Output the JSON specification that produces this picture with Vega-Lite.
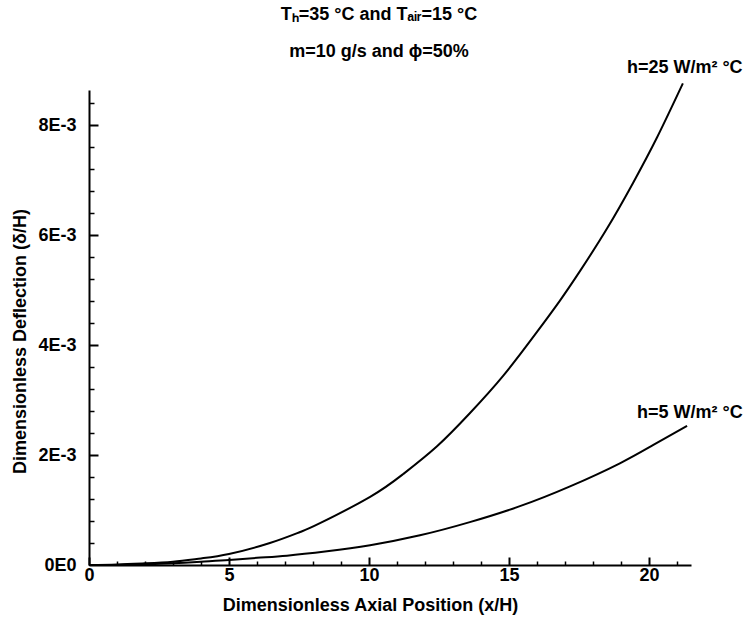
{
  "$schema": "https://vega.github.io/schema/vega-lite/v6.json",
  "width": 602,
  "height": 475,
  "autosize": {"type": "none"},
  "padding": {"left": 89, "top": 90, "right": 59, "bottom": 53},
  "background": "white",
  "config": {"view": {"stroke": null}, "font": "Liberation Sans"},
  "title": {
    "text": ["Tₕ=35 °C and Tₐᵢᵣ=15 °C", "m=10 g/s and ϕ=50%"],
    "anchor": "middle",
    "dx": -11,
    "offset": -2,
    "lineHeight": 37,
    "fontSize": 18,
    "fontWeight": "bold",
    "font": "Liberation Sans",
    "color": "black"
  },
  "layer": [
    {
      "data": {
        "values": [
          {"series": "h=25", "x": 0, "y": 0},
          {"series": "h=25", "x": 1, "y": 0.00001},
          {"series": "h=25", "x": 2, "y": 0.00003},
          {"series": "h=25", "x": 3, "y": 0.00006},
          {"series": "h=25", "x": 4, "y": 0.00012},
          {"series": "h=25", "x": 5, "y": 0.0002},
          {"series": "h=25", "x": 6.46, "y": 0.0004},
          {"series": "h=25", "x": 7.54, "y": 0.0006},
          {"series": "h=25", "x": 8.25, "y": 0.00076},
          {"series": "h=25", "x": 10.04, "y": 0.00124},
          {"series": "h=25", "x": 11.21, "y": 0.00165},
          {"series": "h=25", "x": 12.43, "y": 0.00216},
          {"series": "h=25", "x": 13.6, "y": 0.00276},
          {"series": "h=25", "x": 14.79, "y": 0.00344},
          {"series": "h=25", "x": 16.0, "y": 0.00424},
          {"series": "h=25", "x": 16.82, "y": 0.00481},
          {"series": "h=25", "x": 17.54, "y": 0.00535},
          {"series": "h=25", "x": 18.5, "y": 0.00612},
          {"series": "h=25", "x": 19.43, "y": 0.00695},
          {"series": "h=25", "x": 20.29, "y": 0.00778},
          {"series": "h=25", "x": 21.21, "y": 0.00876},
          {"series": "h=5", "x": 0, "y": 0},
          {"series": "h=5", "x": 1, "y": 0},
          {"series": "h=5", "x": 2, "y": 0.00001},
          {"series": "h=5", "x": 3, "y": 0.00003},
          {"series": "h=5", "x": 4, "y": 0.00006},
          {"series": "h=5", "x": 5, "y": 0.00009},
          {"series": "h=5", "x": 6, "y": 0.00013},
          {"series": "h=5", "x": 7.07, "y": 0.00017},
          {"series": "h=5", "x": 8.5, "y": 0.00025},
          {"series": "h=5", "x": 10.04, "y": 0.00036},
          {"series": "h=5", "x": 11.82, "y": 0.00054},
          {"series": "h=5", "x": 13.6, "y": 0.00078},
          {"series": "h=5", "x": 15.39, "y": 0.00107},
          {"series": "h=5", "x": 17.18, "y": 0.00143},
          {"series": "h=5", "x": 18.96, "y": 0.00185},
          {"series": "h=5", "x": 20.14, "y": 0.00218},
          {"series": "h=5", "x": 21.36, "y": 0.00253}
        ]
      },
      "mark": {"type": "line", "color": "black", "strokeWidth": 2, "interpolate": "natural"},
      "encoding": {
        "x": {
          "field": "x", "type": "quantitative",
          "scale": {"domain": [0, 21.5], "nice": false},
          "axis": {
            "orient": "bottom",
            "values": [0, 5, 10, 15, 20],
            "grid": false,
            "ticks": false,
            "labelFlush": false,
            "domainColor": "black", "domainWidth": 2,
            "labelFontSize": 18, "labelFontWeight": "bold", "labelColor": "black", "labelPadding": 1,
            "labelFont": "Liberation Sans",
            "title": "Dimensionless Axial Position (x/H)",
            "titleFont": "Liberation Sans", "titleFontSize": 18, "titleFontWeight": "bold", "titleColor": "black",
            "titleX": 281, "titleY": 40, "titleBaseline": "middle", "titleAlign": "center"
          }
        },
        "y": {
          "field": "y", "type": "quantitative",
          "scale": {"domain": [0, 0.00864], "nice": false},
          "axis": {
            "orient": "left",
            "values": [0, 0.002, 0.004, 0.006, 0.008],
            "labelExpr": "datum.value == 0 ? '0E0' : format(datum.value * 1000, 'd') + 'E-3'",
            "grid": false,
            "ticks": false,
            "labelFlush": false,
            "domainColor": "black", "domainWidth": 2,
            "labelFontSize": 18, "labelFontWeight": "bold", "labelColor": "black", "labelPadding": 13,
            "labelFont": "Liberation Sans",
            "title": "Dimensionless Deflection (δ/H)",
            "titleFont": "Liberation Sans", "titleFontSize": 18, "titleFontWeight": "bold", "titleColor": "black",
            "titleX": -69, "titleY": 251, "titleAngle": 270, "titleBaseline": "middle", "titleAlign": "center"
          }
        },
        "detail": {"field": "series"}
      }
    },
    {
      "data": {
        "values": [
          {"label": "h=25 W/m² °C", "x": 19.21, "y": 0.00904},
          {"label": "h=5 W/m² °C", "x": 19.57, "y": 0.00276}
        ]
      },
      "mark": {"type": "text", "align": "left", "baseline": "middle", "fontSize": 18, "fontWeight": "bold", "font": "Liberation Sans", "color": "black"},
      "encoding": {
        "x": {
          "field": "x", "type": "quantitative",
          "axis": {
            "orient": "top",
            "offset": -475,
            "values": [0, 1, 2, 3, 4, 5, 6, 7, 8, 9, 10, 11, 12, 13, 14, 15, 16, 17, 18, 19, 20, 21],
            "labels": false, "domain": false, "grid": false, "title": null,
            "tickColor": "black",
            "tickSize": {"condition": {"test": "datum.value % 5 === 0", "value": 8}, "value": 4},
            "tickWidth": {"condition": {"test": "datum.value % 5 === 0", "value": 2}, "value": 1.5}
          }
        },
        "y": {
          "field": "y", "type": "quantitative",
          "axis": {
            "orient": "right",
            "offset": -602,
            "values": [0.0004, 0.0008, 0.0012, 0.0016, 0.002, 0.0024, 0.0028, 0.0032, 0.0036, 0.004, 0.0044, 0.0048, 0.0052, 0.0056, 0.006, 0.0064, 0.0068, 0.0072, 0.0076, 0.008, 0.0084],
            "labels": false, "domain": false, "grid": false, "title": null,
            "tickColor": "black",
            "tickSize": {"condition": {"test": "abs(datum.value * 500 - round(datum.value * 500)) < 0.001", "value": 9}, "value": 5},
            "tickWidth": {"condition": {"test": "abs(datum.value * 500 - round(datum.value * 500)) < 0.001", "value": 2}, "value": 1.5}
          }
        },
        "text": {"field": "label"}
      }
    }
  ],
  "resolve": {"axis": {"x": "independent", "y": "independent"}}
}
